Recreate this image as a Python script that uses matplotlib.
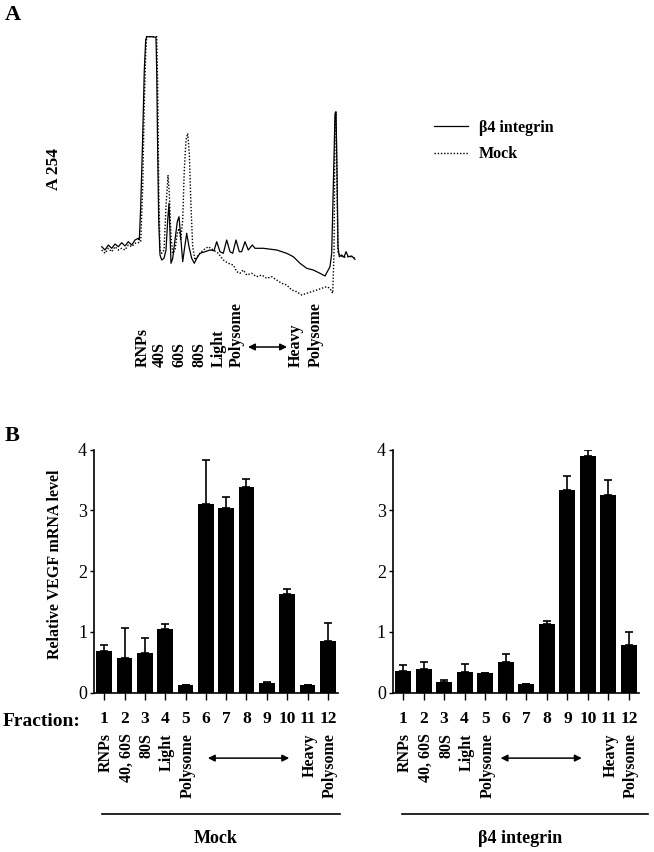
import matplotlib
matplotlib.use("Agg")
import matplotlib.pyplot as plt

plt.rcParams['font.family'] = ['Liberation Serif', 'DejaVu Serif']

# Panel A: A254 profile along the sucrose gradient (position, absorbance)
b4_pos = [6.7, 10.0, 13.3, 16.7, 20.0, 23.3, 26.7, 30.0, 33.3, 36.7, 40.0, 43.3, 44.3,
          45.7, 47.7, 49.3, 50.7, 51.7, 56.7, 61.0, 61.7, 62.7, 63.7, 65.0, 66.7, 69.0,
          71.0, 72.7, 74.0, 75.0, 76.0, 77.7, 80.0, 82.3, 84.0, 85.7, 87.7, 89.3, 91.7,
          94.0, 96.7, 99.3, 101.7, 105.0, 110.0, 115.0, 119.0, 121.7, 125.0, 128.3,
          131.7, 135.0, 137.7, 141.0, 144.3, 146.7, 150.0, 153.3, 157.3, 160.0, 168.3,
          181.7, 191.7, 198.3, 205.0, 211.7, 218.3, 225.0, 230.0, 232.3, 235.0, 236.7,
          238.3, 240.0, 241.0, 242.0, 243.0, 244.3, 246.7, 249.0, 251.0, 253.3, 256.7, 260.0]
b4_a254 = [53.3, 50.0, 55.0, 51.7, 56.0, 53.3, 57.3, 54.0, 58.3, 55.0, 60.0, 61.7, 60.0,
           93.3, 163.3, 230.0, 260.0, 263.3, 263.3, 262.7, 230.0, 146.7, 80.0, 45.0, 40.0,
           41.7, 50.0, 80.0, 96.7, 66.7, 36.7, 41.7, 60.0, 78.3, 83.3, 63.3, 38.3, 50.0,
           66.7, 53.3, 41.7, 36.7, 41.7, 46.7, 48.3, 50.0, 49.3, 58.3, 48.3, 46.7, 60.0,
           48.3, 46.7, 60.0, 48.3, 48.3, 58.3, 50.0, 55.0, 51.7, 51.7, 50.0, 46.7, 43.3,
           36.7, 31.7, 30.0, 26.7, 24.0, 28.3, 33.3, 46.7, 113.3, 186.7, 188.3, 130.0,
           53.3, 43.3, 45.0, 42.7, 48.3, 43.3, 44.0, 40.7]

mock_pos = [6.7, 10.0, 13.3, 16.7, 20.0, 23.3, 26.7, 30.0, 33.3, 36.7, 40.0, 43.3, 45.7,
            47.7, 49.3, 50.7, 51.7, 56.7, 61.7, 62.7, 63.7, 65.0, 66.7, 69.0, 71.0, 73.0,
            74.3, 76.0, 77.7, 80.0, 82.3, 84.0, 85.7, 87.7, 89.3, 91.0, 92.7, 94.3, 96.0,
            97.7, 100.0, 103.3, 108.3, 113.3, 118.3, 123.3, 128.3, 133.3, 138.3, 141.7,
            145.0, 148.3, 151.7, 156.7, 161.7, 166.7, 171.7, 176.7, 181.7, 186.7, 191.7,
            196.7, 201.7, 206.7, 211.7, 216.7, 221.7, 226.7, 231.7, 235.0, 237.7, 239.0,
            240.0, 241.0, 242.0, 243.0, 245.0, 248.3, 251.7, 256.7, 260.0]
mock_a254 = [50.0, 46.7, 51.7, 48.3, 53.3, 50.0, 51.7, 50.0, 55.0, 53.3, 56.7, 57.3, 58.3,
             113.3, 196.7, 246.7, 263.3, 263.3, 263.3, 213.3, 113.3, 50.0, 46.7, 50.0, 93.3,
             125.0, 106.7, 63.3, 46.7, 50.0, 66.7, 71.7, 60.0, 80.0, 130.0, 160.0, 166.7,
             146.7, 93.3, 53.3, 40.0, 45.0, 50.0, 53.3, 50.0, 46.7, 40.0, 36.7, 35.0, 28.3,
             26.7, 30.0, 25.0, 26.7, 23.3, 25.0, 21.7, 23.3, 20.0, 16.7, 15.0, 10.0, 8.3,
             5.0, 6.7, 8.3, 10.0, 11.7, 13.3, 11.7, 6.7, 46.7, 180.0, 186.7, 113.3, 46.7,
             45.0, 42.7, 43.3, 43.3, 41.7]

gradient_labels = ['RNPs', '40S', '60S', '80S', 'Light', 'Polysome', 'Heavy', 'Polysome']
gradient_label_pos = [47.3, 65.0, 85.0, 105.0, 124.0, 142.0, 200.7, 221.0]
gradient_arrow = (153.0, 192.0)

# Panel B: relative VEGF mRNA per fraction (mean, upper error)
fractions = [1, 2, 3, 4, 5, 6, 7, 8, 9, 10, 11, 12]
mock_mean = [0.69, 0.56, 0.645, 1.045, 0.12, 3.10, 3.03, 3.38, 0.15, 1.62, 0.12, 0.85]
mock_err = [0.10, 0.50, 0.245, 0.075, 0.0, 0.73, 0.18, 0.13, 0.03, 0.08, 0.0, 0.30]
b4_mean = [0.36, 0.38, 0.18, 0.34, 0.32, 0.50, 0.14, 1.12, 3.33, 3.89, 3.25, 0.78]
b4_err = [0.09, 0.12, 0.03, 0.13, 0.0, 0.13, 0.0, 0.06, 0.23, 0.11, 0.24, 0.21]
fraction_labels = ['RNPs', '40, 60S', '80S', 'Light', 'Polysome', '', '', '', '', '',
                   'Heavy', 'Polysome']

fig = plt.figure(figsize=(6.54, 8.52), dpi=100)
W, H = 654.0, 852.0

# ---- panel A
axA = fig.add_axes([95 / W, 1 - 300 / H, 265 / W, 270 / H])
axA.plot(b4_pos, b4_a254, color='black', lw=0.9, label='\u03b24 integrin')
axA.plot(mock_pos, mock_a254, color='black', lw=1.0, linestyle=(0, (1, 1.3)), label='Mock')
axA.set_xlim(0, 265)
axA.set_ylim(0, 270)
axA.axis('off')

for name, p in zip(gradient_labels, gradient_label_pos):
    axA.text(p, -67, name, rotation=90, ha='center', va='bottom',
             fontsize=11.5, fontweight='bold', clip_on=False)
axA.annotate('', xy=(gradient_arrow[1], -47), xytext=(gradient_arrow[0], -47),
             arrowprops=dict(arrowstyle='<|-|>', color='black', lw=1.1,
                             mutation_scale=10, shrinkA=0, shrinkB=0),
             annotation_clip=False)

leg = axA.legend(loc='upper left', bbox_to_anchor=(434 / W, 1 - 120 / H),
                 bbox_transform=fig.transFigure, frameon=False, borderpad=0,
                 borderaxespad=0, handlelength=2.1, handletextpad=0.7,
                 labelspacing=0.65, prop=dict(size=11.5, weight='bold'))

fig.text(5 / W, 1 - 15 / H, 'A', fontsize=16, fontweight='bold', va='center')
fig.text(54 / W, 1 - 169 / H, 'A 254', rotation=90, fontsize=12.5, fontweight='bold',
         ha='center', va='center')

# ---- panel B
fig.text(5 / W, 1 - 436 / H, 'B', fontsize=16, fontweight='bold', va='center')
fig.text(55 / W, 1 - 564 / H, 'Relative VEGF mRNA level', rotation=90, fontsize=11.5,
         fontweight='bold', ha='center', va='center')
fig.text(3 / W, 1 - 721 / H, 'Fraction:', fontsize=14, fontweight='bold', va='center')

panels = [
    ([94 / W, 1 - 692.5 / H, 244 / W, 243 / H], mock_mean, mock_err, (6.1, 10.1),
     'Mock', 6.5, (0.88, 12.6)),
    ([392.7 / W, 1 - 692.5 / H, 246.6 / W, 243 / H], b4_mean, b4_err, (5.75, 9.7),
     '\u03b24 integrin', 6.7, (0.94, 12.9)),
]

for rect, mean, err, arrow, group, group_x, line_x in panels:
    ax = fig.add_axes(rect)
    ax.bar(fractions, mean, width=0.78, color='black', zorder=2)
    ax.errorbar(fractions, mean, yerr=[[0] * len(err), err], fmt='none', ecolor='black',
                elinewidth=1.2, capsize=3.2, capthick=1.2, zorder=1)
    ax.set_xlim(0.5, 12.5)
    ax.set_ylim(0, 4)
    ax.spines['top'].set_visible(False)
    ax.spines['right'].set_visible(False)
    ax.spines['left'].set_linewidth(1.2)
    ax.spines['bottom'].set_linewidth(1.2)
    ax.set_yticks([0, 1, 2, 3, 4])
    ax.tick_params(axis='y', length=3, width=1, pad=2, labelsize=13)
    ax.set_xticks(fractions)
    ax.set_xticklabels([str(f) for f in fractions], fontsize=12.5, fontweight='bold')
    ax.tick_params(axis='x', length=5, width=1, pad=8)

    tr = ax.get_xaxis_transform()
    for f, name in zip(fractions, fraction_labels):
        if name:
            ax.text(f + 0.1, -0.167, name, transform=tr, rotation=90, ha='center',
                    va='top', fontsize=11.5, fontweight='bold', clip_on=False)
    ax.annotate('', xy=(arrow[1], -0.27), xytext=(arrow[0], -0.27), xycoords=tr,
                textcoords=tr,
                arrowprops=dict(arrowstyle='<|-|>', color='black', lw=1.1,
                                mutation_scale=10, shrinkA=0, shrinkB=0),
                annotation_clip=False)
    ax.plot(line_x, [-0.5, -0.5], transform=tr, color='black', lw=1.2, clip_on=False)
    ax.text(group_x, -0.6, group, transform=tr, ha='center', va='center', fontsize=13,
            fontweight='bold', clip_on=False)

fig.savefig('out.png', dpi=100)
